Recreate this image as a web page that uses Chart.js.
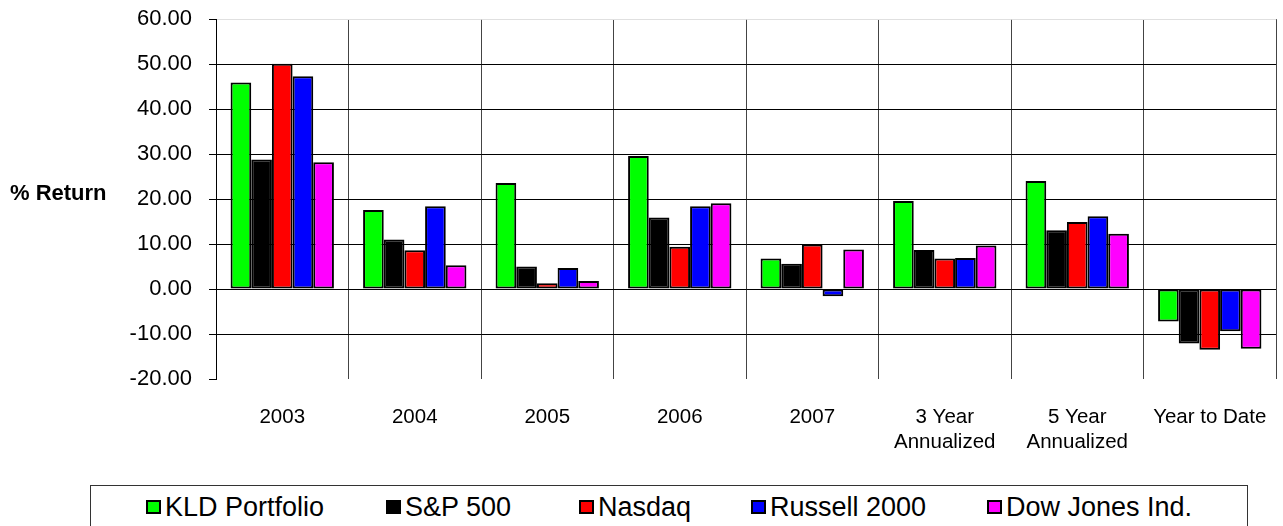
<!DOCTYPE html>
<html>
<head>
<meta charset="utf-8">
<script src="https://cdn.jsdelivr.net/npm/chart.js@4.4.0/dist/chart.umd.min.js"></script>
<style>
  body { margin: 0; background: #fff; font-family: 'Liberation Sans', Arial, sans-serif; overflow: hidden; }
  #wrap { position: relative; width: 1283px; height: 526px; overflow: hidden; }
  #chartBox { position: absolute; left: 0; top: -11px; width: 1283px; height: 471px; }
  #legend {
    position: absolute; left: 90px; top: 485px; width: 1158px; height: 50px;
    box-sizing: border-box; border: 1px solid #333; font-size: 27px; color: #000;
  }
  .item { position: absolute; top: 6px; display: flex; align-items: center; white-space: nowrap; line-height: 30px; }
  .sw { width: 11px; height: 10px; border: 2px solid #000; margin-right: 4px; }
</style>
</head>
<body>
<div id="wrap">
  <div id="chartBox"><canvas id="returnsChart"></canvas></div>
  <div id="legend"></div>
</div>
<script>
// Returns by period
const categories = ['2003', '2004', '2005', '2006', '2007', ['3 Year', 'Annualized'], ['5 Year', 'Annualized'], 'Year to Date'];
const seriesNames = ['KLD Portfolio', 'S&P 500', 'Nasdaq', 'Russell 2000', 'Dow Jones Ind.'];
const seriesColors = ['#00ff00', '#000000', '#ff0000', '#0000ff', '#ff00ff'];
const kld     = [45.9, 17.6, 23.6, 29.6, 6.8, 19.6, 24.0, -7.2];
const sp500   = [28.8, 11.0, 5.0, 15.9, 5.6, 8.7, 13.1, -12.1];
const nasdaq  = [50.1, 8.6, 1.3, 9.4, 9.9, 6.8, 14.9, -13.5];
const russell = [47.3, 18.4, 4.7, 18.4, -1.6, 6.9, 16.2, -9.4];
const dow     = [28.2, 5.3, 1.8, 19.1, 8.8, 9.7, 12.3, -13.3];
const seriesValues = [kld, sp500, nasdaq, russell, dow];
const yTicks = { min: -20, max: 60, step: 10 };

const fontFamily = "'Liberation Sans', Arial, sans-serif";

const sideTitle = {
  id: 'sideTitle',
  afterDraw(chart) {
    const { ctx, chartArea } = chart;
    ctx.save();
    ctx.font = 'bold 22px ' + fontFamily;
    ctx.fillStyle = '#000';
    ctx.textAlign = 'left';
    ctx.textBaseline = 'middle';
    ctx.fillText('% Return', 10, (chartArea.top + chartArea.bottom) / 2 - 5);
    ctx.restore();
  }
};

new Chart(document.getElementById('returnsChart'), {
  type: 'bar',
  data: {
    labels: categories,
    datasets: seriesNames.map((name, i) => ({
      label: name,
      data: seriesValues[i],
      backgroundColor: seriesColors[i],
      borderColor: '#000',
      borderWidth: 2,
      borderSkipped: false,
      categoryPercentage: 0.78,
      barPercentage: 1.0
    }))
  },
  options: {
    responsive: true,
    maintainAspectRatio: false,
    animation: false,
    layout: { padding: { top: 6, right: 7, left: 0, bottom: 0 } },
    plugins: { legend: { display: false }, tooltip: { enabled: false } },
    scales: {
      x: {
        grid: {
          offset: true,
          drawTicks: true,
          tickLength: 26,
          tickColor: 'rgba(0,0,0,0)',
          color: (c) => (c.index === categories.length ? 'rgba(0,0,0,0)' : '#444'),
          lineWidth: 1
        },
        border: { display: false },
        ticks: { color: '#000', font: { size: 20.5, family: fontFamily }, padding: 0, maxRotation: 0, autoSkip: false },
        afterFit: (s) => { s.height = 81; }
      },
      y: {
        min: yTicks.min,
        max: yTicks.max,
        ticks: {
          stepSize: yTicks.step,
          color: '#000',
          font: { size: 22, family: fontFamily },
          padding: 17,
          callback: (v) => Number(v).toFixed(2)
        },
        grid: {
          tickLength: 7,
          tickColor: '#000',
          color: (c) => {
            const v = c.tick && c.tick.value;
            if (v === yTicks.max) return '#e0e0e0';
            if (v === yTicks.min) return 'rgba(0,0,0,0)';
            return '#000';
          }
        },
        border: { display: true, color: '#000', width: 1 },
        afterFit: (s) => { s.width = 216; }
      }
    }
  },
  plugins: [sideTitle]
});

// Legend box below the chart
const legendEl = document.getElementById('legend');
const itemLeft = [55, 295, 488, 660, 896];
seriesNames.forEach((name, i) => {
  const item = document.createElement('div');
  item.className = 'item';
  item.style.left = itemLeft[i] + 'px';
  const sw = document.createElement('span');
  sw.className = 'sw';
  sw.style.background = seriesColors[i];
  const txt = document.createElement('span');
  txt.textContent = name;
  item.appendChild(sw);
  item.appendChild(txt);
  legendEl.appendChild(item);
});
</script>
</body>
</html>
